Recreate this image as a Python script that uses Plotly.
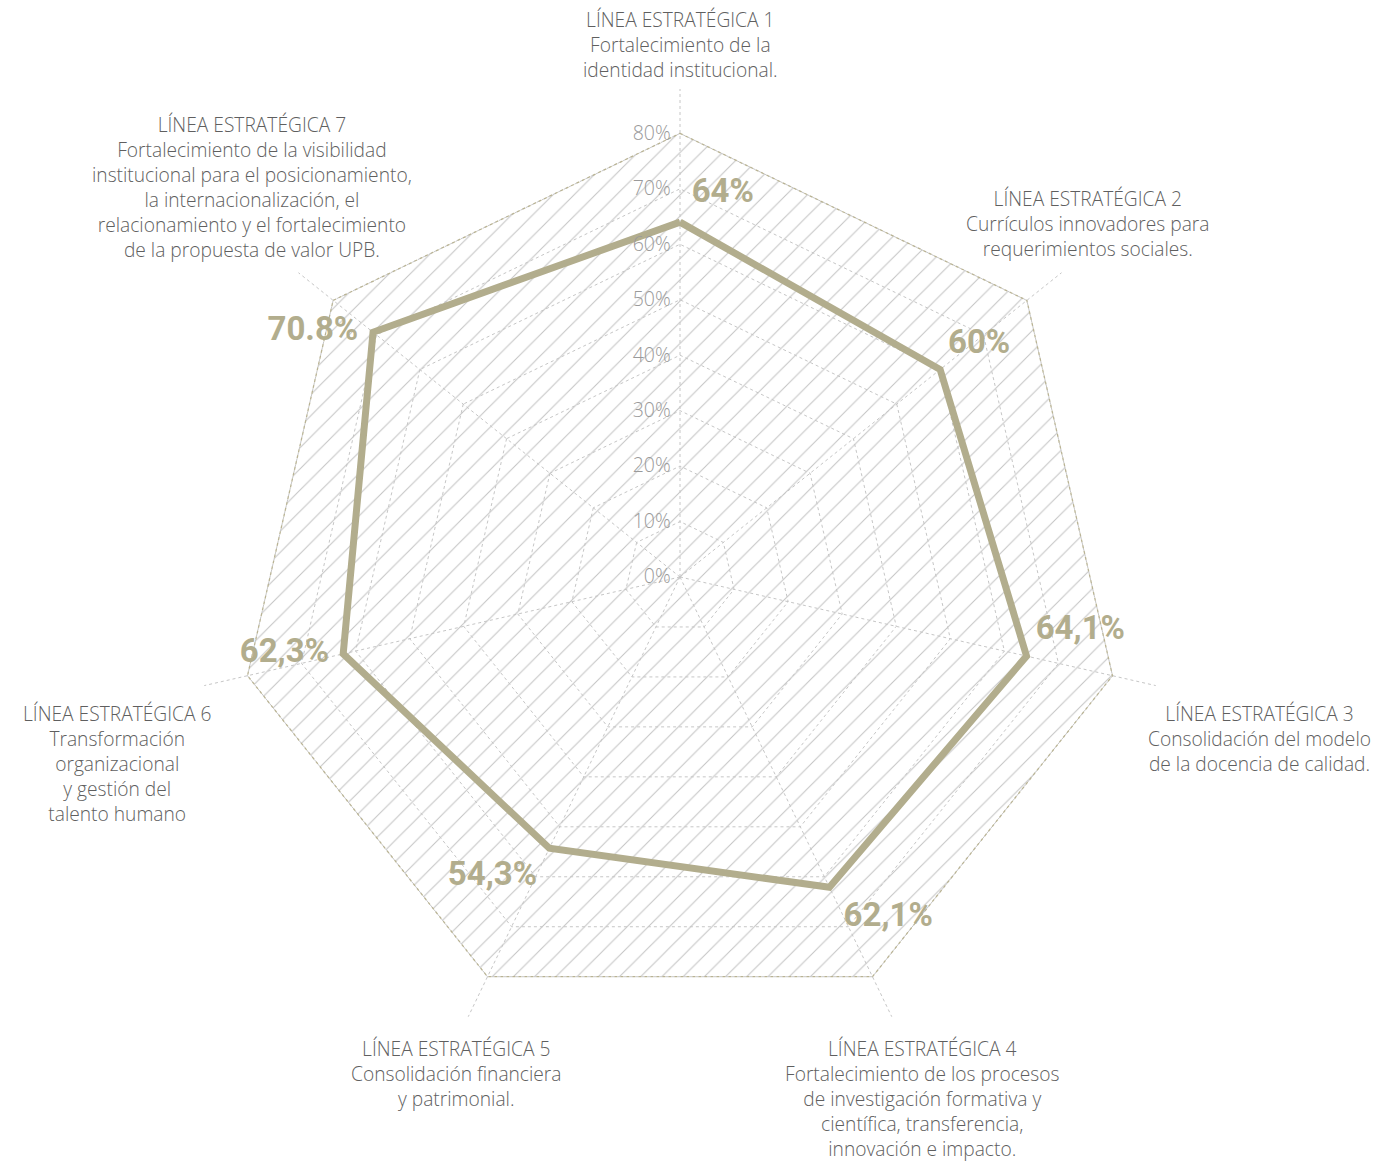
import math
import plotly.graph_objects as go

# Strategic lines and their progress (%)
lines = ["LE1", "LE2", "LE3", "LE4", "LE5", "LE6", "LE7"]
values = [64, 60, 64.1, 62.1, 54.3, 62.3, 70.8]
value_labels = ["64%", "60%", "64,1%", "62,1%", "54,3%", "62,3%", "70.8%"]

# Radial scale
tick_vals = [0, 10, 20, 30, 40, 50, 60, 70, 80]
tick_text = ["0%", "10%", "20%", "30%", "40%", "50%", "60%", "70%", "80%"]
scale_max = 80

# Descriptions placed around the chart
descriptions = [
    "LÍNEA ESTRATÉGICA 1<br>Fortalecimiento de la<br>identidad institucional.",
    "LÍNEA ESTRATÉGICA 2<br>Currículos innovadores para<br>requerimientos sociales.",
    "LÍNEA ESTRATÉGICA 3<br>Consolidación del modelo<br>de la docencia de calidad.",
    "LÍNEA ESTRATÉGICA 4<br>Fortalecimiento de los procesos<br>de investigación formativa y<br>científica, transferencia,<br>innovación e impacto.",
    "LÍNEA ESTRATÉGICA 5<br>Consolidación financiera<br>y patrimonial.",
    "LÍNEA ESTRATÉGICA 6<br>Transformación<br>organizacional<br>y gestión del<br>talento humano",
    "LÍNEA ESTRATÉGICA 7<br>Fortalecimiento de la visibilidad<br>institucional para el posicionamiento,<br>la internacionalización, el<br>relacionamiento y el fortalecimiento<br>de la propuesta de valor UPB.",
]
# (centre x, top y) in pixels for each description block
desc_pos = [(680, 4), (1088, 183), (1259, 698), (922, 1033),
            (456, 1033), (117, 698), (252, 109)]

W, H = 1377, 1162
CX, CY = 680, 577
R_OUTER = 488          # pixel radius of the full radial range
RANGE_MAX = 88

TAN = "#b2ad8d"
GRID = "#c6c6c6"

dom_x = [(CX - R_OUTER) / W, (CX + R_OUTER) / W]
dom_y = [1 - (CY + R_OUTER) / H, 1 - (CY - R_OUTER) / H]

closed_lines = lines + lines[:1]

fig = go.Figure()

# Hatched heptagon behind the polar grid, on a hidden cartesian frame
# that shares the polar area (clockwise from the top, like the polar axis)
n = len(lines)
hx, hy = [], []
for i in range(n + 1):
    a = 2 * math.pi * (i % n) / n
    hx.append(scale_max * math.sin(a))
    hy.append(scale_max * math.cos(a))
fig.add_trace(go.Scatter(
    x=hx, y=hy, mode="lines",
    line=dict(width=0, color="rgba(0,0,0,0)"),
    fill="toself",
    fillcolor="rgba(0,0,0,0)",
    fillpattern=dict(shape="/", size=15, solidity=0.07,
                     fgcolor="#c4c4c4", bgcolor="rgba(0,0,0,0)", fgopacity=1),
    hoverinfo="skip",
    showlegend=False,
))

# Dotted outline of the 80 % ring
fig.add_trace(go.Scatterpolar(
    r=[scale_max] * len(closed_lines),
    theta=closed_lines,
    mode="lines",
    line=dict(color="#b9b394", width=1.3, dash="dot"),
    hoverinfo="skip",
    showlegend=False,
))

# Progress polygon
fig.add_trace(go.Scatterpolar(
    r=values + values[:1],
    theta=closed_lines,
    mode="lines",
    line=dict(color=TAN, width=7),
    showlegend=False,
))

# Value labels next to each vertex
fig.add_trace(go.Scatterpolar(
    r=values,
    theta=lines,
    mode="markers+text",
    marker=dict(size=[17, 11, 13, 21, 18, 21, 22], opacity=0),
    text=value_labels,
    textposition=["top right", "top right", "top right", "bottom right",
                  "bottom left", "middle left", "middle left"],
    textfont=dict(family="Roboto", size=33, color=TAN, weight="bold"),
    cliponaxis=False,
    showlegend=False,
))

fig.update_layout(
    width=W, height=H,
    margin=dict(l=0, r=0, t=0, b=0),
    paper_bgcolor="white",
    plot_bgcolor="rgba(0,0,0,0)",
    showlegend=False,
    xaxis=dict(domain=dom_x, range=[-RANGE_MAX, RANGE_MAX], visible=False,
               fixedrange=True),
    yaxis=dict(domain=dom_y, range=[-RANGE_MAX, RANGE_MAX], visible=False,
               fixedrange=True),
    polar=dict(
        domain=dict(x=dom_x, y=dom_y),
        bgcolor="rgba(0,0,0,0)",
        gridshape="linear",
        radialaxis=dict(
            range=[0, RANGE_MAX],
            tickvals=tick_vals,
            ticktext=tick_text,
            angle=90,
            tickangle=90,
            side="counterclockwise",
            showline=False,
            ticks="outside",
            ticklen=2,
            tickcolor="rgba(0,0,0,0)",
            gridcolor=GRID,
            griddash="dot",
            gridwidth=1,
            tickfont=dict(family="Open Sans", size=19.5, color="#9a9a9a", weight=300),
        ),
        angularaxis=dict(
            direction="clockwise",
            rotation=90,
            showline=False,
            showticklabels=False,
            ticks="",
            gridcolor=GRID,
            griddash="dot",
            gridwidth=1,
        ),
    ),
)

for text, (px, py) in zip(descriptions, desc_pos):
    fig.add_annotation(
        x=px / W, y=1 - py / H, xref="paper", yref="paper",
        xanchor="center", yanchor="top", showarrow=False,
        text=text, align="center",
        font=dict(family="Open Sans", size=19.2, color="#5f5f5f", weight=300),
    )

fig.write_html("out.html")
